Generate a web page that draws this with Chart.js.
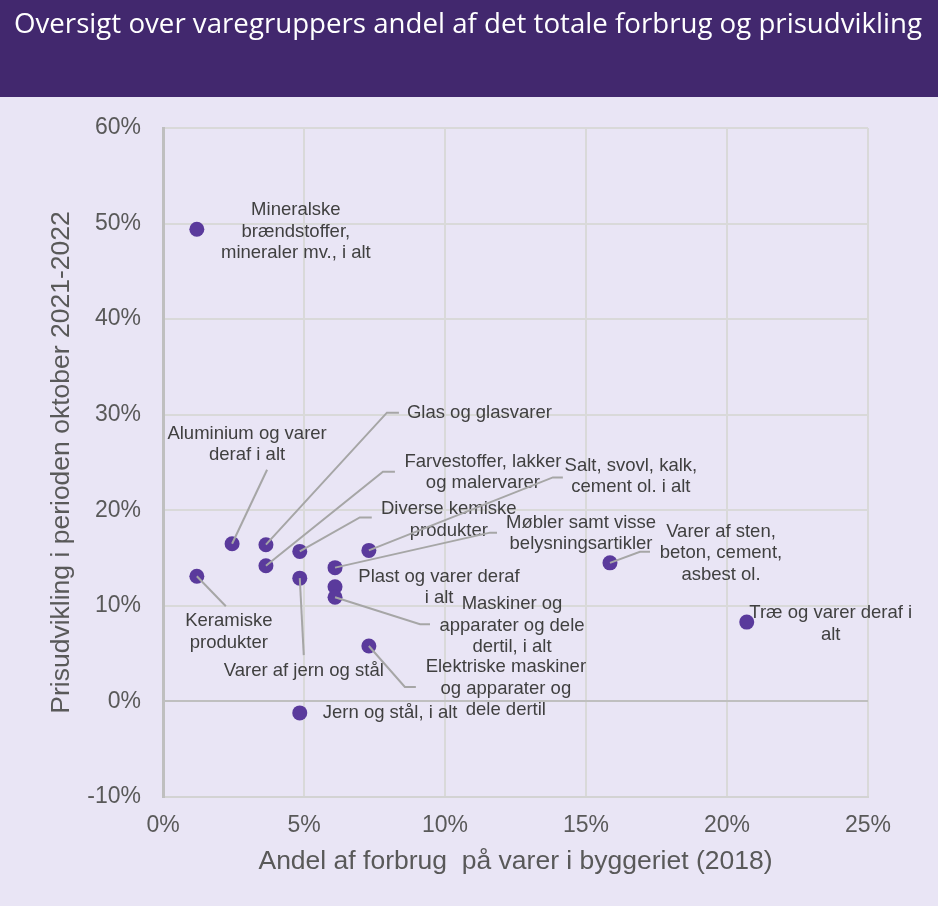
<!DOCTYPE html>
<html>
<head>
<meta charset="utf-8">
<script src="https://cdn.jsdelivr.net/npm/chart.js@4.4.0/dist/chart.umd.min.js"></script>
<style>
  html, body { margin: 0; padding: 0; background: #e9e5f5; }
  canvas { display: block; }
</style>
</head>
<body>
<canvas id="scatter_chart" width="938" height="906"></canvas>
<script>
const chartTitle = "Oversigt over varegruppers andel af det totale forbrug og prisudvikling";
const xTitle = "Andel af forbrug  på varer i byggeriet (2018)";
const yTitle = "Prisudvikling i perioden oktober 2021-2022";

// varegrupper (label lines)
const groups = [
  ["Mineralske", "brændstoffer,", "mineraler mv., i alt"],
  ["Aluminium og varer", "deraf i alt"],
  ["Glas og glasvarer"],
  ["Farvestoffer, lakker", "og malervarer"],
  ["Diverse kemiske", "produkter"],
  ["Varer af jern og stål"],
  ["Keramiske", "produkter"],
  ["Salt, svovl, kalk,", "cement ol. i alt"],
  ["Møbler samt visse", "belysningsartikler"],
  ["Plast og varer deraf", "i alt"],
  ["Maskiner og", "apparater og dele", "dertil, i alt"],
  ["Elektriske maskiner", "og apparater og", "dele dertil"],
  ["Jern og stål, i alt"],
  ["Varer af sten,", "beton, cement,", "asbest ol."],
  ["Træ og varer deraf i", "alt"]
];

// andel af forbrug (%)
const share = [1.2, 2.45, 3.65, 3.65, 4.85, 4.85, 1.2, 7.3, 6.1, 6.1, 6.1, 7.3, 4.85, 15.85, 20.7];
// prisudvikling (%)
const priceChange = [49.4, 16.5, 16.4, 14.2, 15.7, 12.9, 13.1, 15.8, 14.0, 12.0, 10.9, 5.8, -1.2, 14.5, 8.3];

const xTickValues = [0, 5, 10, 15, 20, 25];
const yTickValues = [-10, 0, 10, 20, 30, 40, 50, 60];

// label placement relative to each point (pixels)
const labelLayout = [
  { dx: 99, dy: -19, align: "center" },
  { dx: 15, dy: -110, align: "center", leader: [[35, -74]] },
  { dx: 141, dy: -132, align: "left", leader: [[121, -132], [133, -132]] },
  { dx: 217, dy: -104, align: "center", leader: [[117, -94], [129, -94]] },
  { dx: 149, dy: -42, align: "center", leader: [[60, -34], [72, -34]] },
  { dx: 4, dy: 93, align: "center", leader: [[4, 77]] },
  { dx: 32, dy: 45, align: "center", leader: [[29, 30]] },
  { dx: 262, dy: -85, align: "center", leader: [[184, -73], [194, -73]] },
  { dx: 246, dy: -45, align: "center", leader: [[155, -35], [162, -35]] },
  { dx: 104, dy: -10, align: "center" },
  { dx: 177, dy: 7, align: "center", leader: [[85, 27], [95, 27]] },
  { dx: 137, dy: 21, align: "center", leader: [[36, 41], [47, 41]] },
  { dx: 23, dy: 0, align: "left" },
  { dx: 111, dy: -31, align: "center", leader: [[30, -11], [40, -11]] },
  { dx: 84, dy: -9, align: "center" }
];

const pointColor = "#5a3a9c";
const textColor = "#595959";
const labelColor = "#404040";
const fontFamily = '"Liberation Sans", Arial, sans-serif';

const headerPlugin = {
  id: "header",
  beforeDraw(chart) {
    const ctx = chart.ctx;
    ctx.save();
    ctx.fillStyle = "#e9e5f5";
    ctx.fillRect(0, 0, chart.width, chart.height);
    ctx.fillStyle = "#42286e";
    ctx.fillRect(0, 0, chart.width, 97);
    ctx.font = '27px "Open Sans", sans-serif';
    ctx.fillStyle = "#ffffff";
    ctx.textBaseline = "alphabetic";
    const w = ctx.measureText(chartTitle).width;
    ctx.translate(14, 33);
    ctx.scale(908 / w, 1);
    ctx.fillText(chartTitle, 0, 0);
    ctx.restore();
  }
};

const labelPlugin = {
  id: "pointLabels",
  afterDatasetsDraw(chart) {
    const ctx = chart.ctx;
    const meta = chart.getDatasetMeta(0);
    meta.data.forEach((pt, i) => {
      const lay = labelLayout[i];
      ctx.save();
      if (lay.leader) {
        ctx.strokeStyle = "#a6a6a6";
        ctx.lineWidth = 2;
        ctx.beginPath();
        ctx.moveTo(pt.x, pt.y);
        lay.leader.forEach(([lx, ly]) => ctx.lineTo(pt.x + lx, pt.y + ly));
        ctx.stroke();
      }
      ctx.font = "18.5px " + fontFamily;
      ctx.fillStyle = labelColor;
      ctx.textAlign = lay.align;
      ctx.textBaseline = "middle";
      groups[i].forEach((line, j) => {
        ctx.fillText(line, pt.x + lay.dx, pt.y + lay.dy + j * 21.5);
      });
      ctx.restore();
    });
  }
};

const ctx = document.getElementById("scatter_chart").getContext("2d");
new Chart(ctx, {
  type: "scatter",
  data: {
    datasets: [
      {
        label: "Varegrupper",
        data: share.map((x, i) => ({ x: x, y: priceChange[i] })),
        backgroundColor: pointColor,
        borderWidth: 0,
        pointRadius: 7.5,
        pointHoverRadius: 7.5
      }
    ]
  },
  options: {
    responsive: false,
    animation: false,
    events: [],
    layout: { padding: { top: 128, right: 70, bottom: 0, left: 0 } },
    plugins: {
      legend: { display: false },
      tooltip: { enabled: false }
    },
    scales: {
      x: {
        type: "linear",
        min: 0,
        max: 25,
        afterFit(scale) { scale.height = 109; },
        afterBuildTicks(scale) { scale.ticks = xTickValues.map((v) => ({ value: v })); },
        ticks: {
          callback: (v) => v + "%",
          color: textColor,
          font: { family: fontFamily, size: 23 },
          padding: 15,
          maxRotation: 0
        },
        grid: { color: "#d9d9d9", lineWidth: 2, drawTicks: false },
        border: { color: "#d3d3d3", width: 2 },
        title: {
          display: true,
          text: xTitle,
          color: textColor,
          font: { family: fontFamily, size: 26.5 },
          padding: { top: 0, bottom: 28 }
        }
      },
      y: {
        type: "linear",
        min: -10,
        max: 60,
        afterFit(scale) { scale.width = 163; },
        afterBuildTicks(scale) { scale.ticks = yTickValues.map((v) => ({ value: v })); },
        ticks: {
          callback: (v) => v + "%",
          color: textColor,
          font: { family: fontFamily, size: 23 },
          padding: 22
        },
        grid: {
          color: (c) => (c.tick && c.tick.value === 0 ? "#bfbfbf" : "#d9d9d9"),
          lineWidth: 2,
          drawTicks: false
        },
        border: { color: "#bfbfbf", width: 3 },
        title: {
          display: true,
          text: yTitle,
          color: textColor,
          font: { family: fontFamily, size: 26.5 },
          padding: { top: 46, bottom: 0 }
        }
      }
    }
  },
  plugins: [headerPlugin, labelPlugin]
});
</script>
</body>
</html>
